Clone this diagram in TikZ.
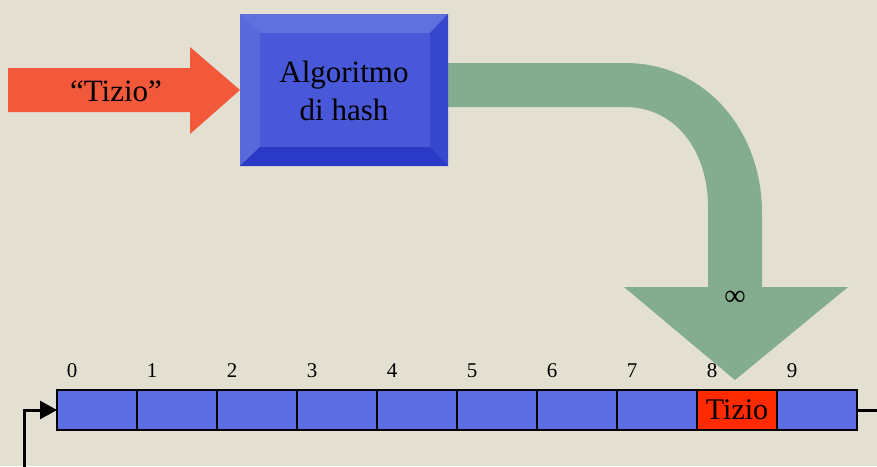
\documentclass[tikz,border=0pt]{standalone}
\usepackage{fontspec}
\setmainfont{Liberation Serif}
\usetikzlibrary{arrows.meta}
\definecolor{bgc}{HTML}{E3E0D2}
\definecolor{redarr}{HTML}{F2583A}
\definecolor{boxmid}{HTML}{4858D8}
\definecolor{boxlight}{HTML}{6070DE}
\definecolor{boxdark}{HTML}{3848CE}
\definecolor{boxdarker}{HTML}{2A3AC6}
\definecolor{greenarr}{HTML}{84AC8E}
\definecolor{cellblue}{HTML}{5C6CE2}
\definecolor{cellred}{HTML}{FF2A00}
\tikzset{
  cellbox/.style={draw=black, line width=1.1pt, fill=cellblue, minimum width=80pt, minimum height=40pt, inner sep=0pt, outer sep=0pt},
  numlabel/.style={font=\fontsize{21}{21}\selectfont, inner sep=0pt},
  bigtext/.style={font=\fontsize{31}{38}\selectfont, align=center, inner sep=0pt},
  connector/.style={line width=3pt, draw=black}
}
\begin{document}
\begin{tikzpicture}[x=1pt,y=-1pt]
\useasboundingbox (0,0) rectangle (877,466);
\fill[bgc] (0,0) rectangle (877,466);
% red arrow
\fill[redarr] (8,68) -- (190,68) -- (190,47) -- (240,90) -- (190,134) -- (190,112) -- (8,112) -- cycle;
\node[bigtext] (tizioq) at (116,91) {“Tizio”};
% green curved arrow
\fill[greenarr] (448,63) -- (625,63) .. controls (705,63) and (762,130) .. (762,213)
  -- (762,287) -- (848,287) -- (735,380) -- (624,287) -- (708,287) -- (708,207)
  .. controls (708,150) and (675,107) .. (625,107) -- (448,107) -- cycle;
% blue bevel box
\fill[boxmid] (240,14) rectangle (448,166);
\fill[boxlight] (240,14) -- (448,14) -- (430,33) -- (260,33) -- cycle;
\fill[boxlight!70!boxmid] (240,14) -- (260,33) -- (260,147) -- (240,166) -- cycle;
\fill[boxdark] (448,14) -- (448,166) -- (430,147) -- (430,33) -- cycle;
\fill[boxdarker] (240,166) -- (260,147) -- (430,147) -- (448,166) -- cycle;
\node[bigtext] (hash) at (344,91) {Algoritmo\\di hash};
\node[font=\fontsize{30}{30}\selectfont, inner sep=0pt] (inf) at (735,298) {∞};
% array
\foreach \i in {0,...,9} {
  \node[cellbox] (c\i) at (97+80*\i,410) {};
  \node[numlabel] (n\i) at (72+80*\i,371) {\i};
}
\node[cellbox, fill=cellred, font=\fontsize{30}{30}\selectfont] (c8) at (737,410) {Tizio};
% connectors
\coordinate (lstart) at (24,470);
\coordinate (rend) at (880,410);
\draw[connector, -{Triangle[length=17pt,width=18pt]}] (lstart) |- (c0.west);
\draw[connector] (c9.east) -- (rend);
\end{tikzpicture}
\end{document}
